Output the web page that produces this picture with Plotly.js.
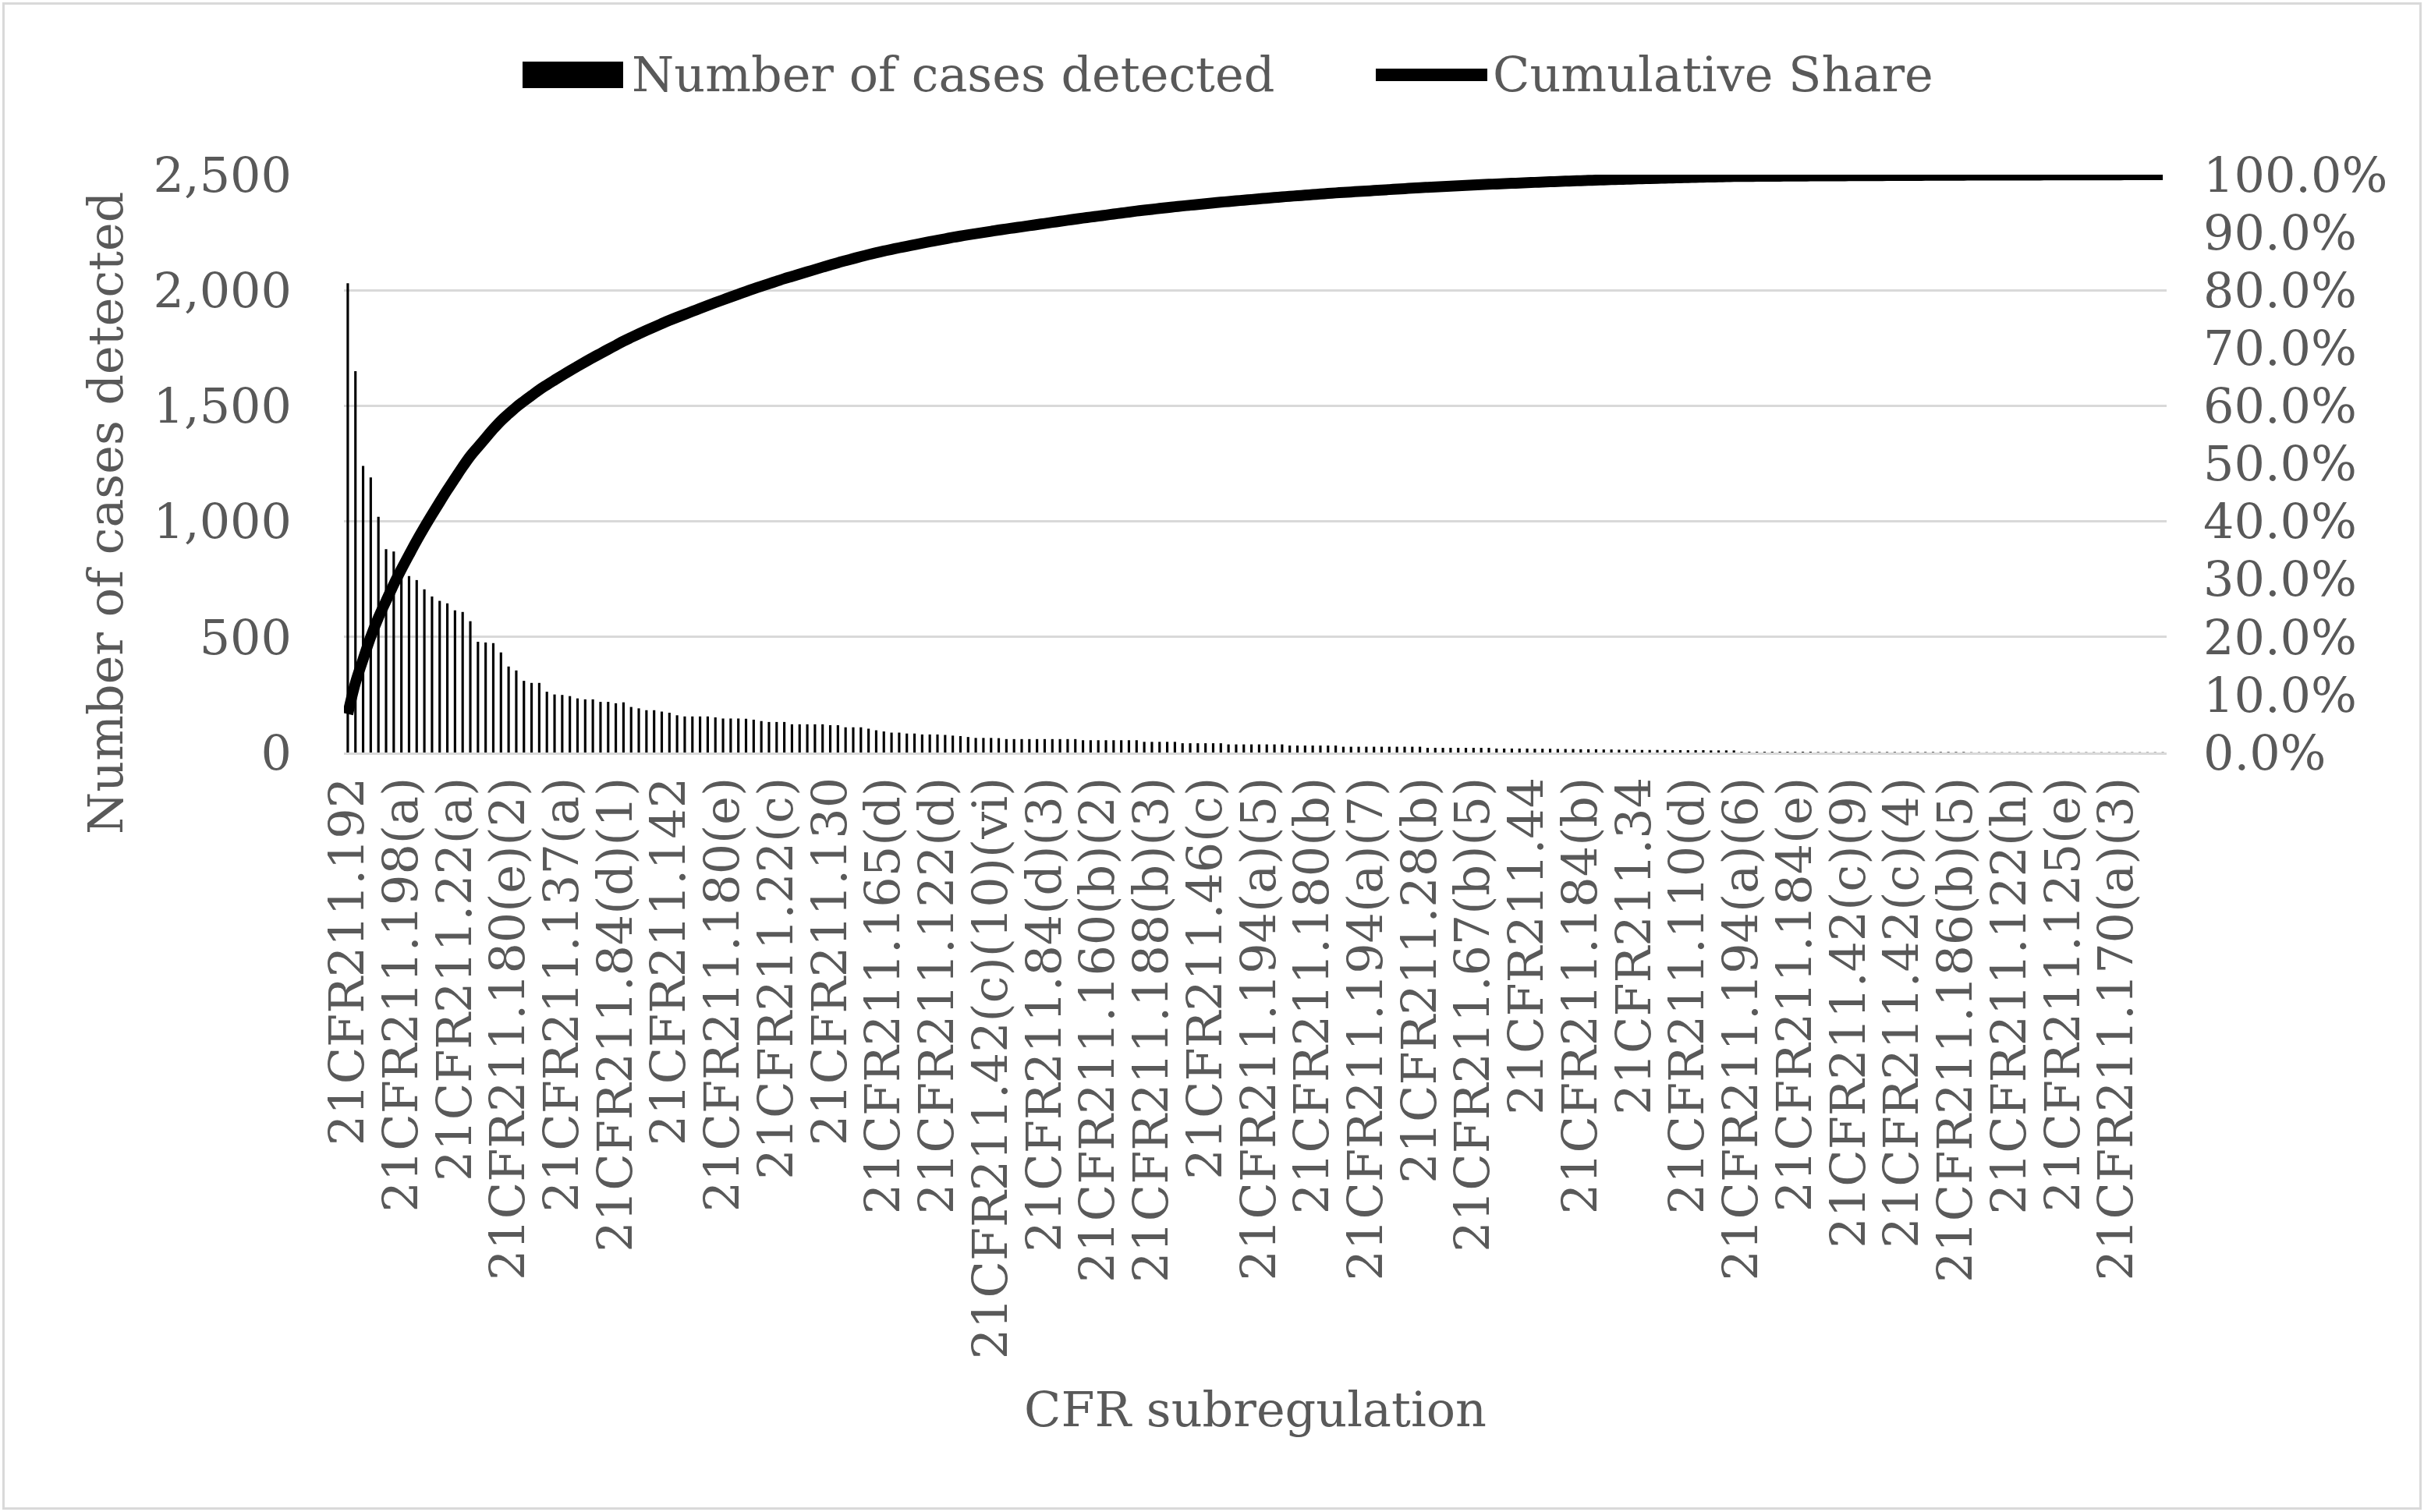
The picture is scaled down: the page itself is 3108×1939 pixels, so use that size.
<!DOCTYPE html>
<html>
<head>
<meta charset="utf-8">
<script src="https://cdn.plot.ly/plotly-3.0.1.min.js"></script>
<style>
  html, body { margin: 0; padding: 0; background: #ffffff; }
  #chart { width: 3108px; height: 1939px; }
  #frame { position: absolute; left: 3px; top: 3px; width: 3096px; height: 1927px;
           border: 3px solid #d9d9d9; pointer-events: none; }
</style>
</head>
<body>
<div id="chart"></div>
<div id="frame"></div>
<script>
// ---- data (Pareto of CFR subregulations) ----
const seriesBarName = "Number of cases detected";
const seriesLineName = "Cumulative Share";
const xTitle = "CFR subregulation";
const yTitle = "Number of cases detected";

const counts = [
  2030, 1650, 1240, 1190, 1020, 880, 870, 800, 763, 746,
  706, 675, 656, 645, 615, 608, 568, 479, 476, 473,
  433, 372, 355, 310, 301, 301, 263, 251, 249, 244,
  234, 230, 230, 219, 219, 213, 217, 197, 191, 183,
  183, 177, 172, 161, 156, 156, 156, 156, 152, 147,
  147, 147, 146, 142, 136, 132, 132, 132, 122, 122,
  122, 122, 122, 118, 118, 109, 109, 109, 103, 96,
  91, 86, 86, 82, 82, 78, 78, 78, 76, 73,
  71, 67, 63, 63, 63, 62, 58, 58, 58, 58,
  58, 58, 58, 58, 58, 58, 53, 53, 53, 53,
  53, 53, 53, 53, 46, 46, 46, 46, 46, 40,
  40, 40, 40, 40, 40, 35, 35, 35, 35, 35,
  35, 35, 35, 30, 30, 30, 30, 30, 30, 30,
  25, 25, 25, 25, 25, 25, 25, 25, 25, 25,
  25, 20, 20, 20, 20, 20, 20, 20, 20, 20,
  17, 17, 17, 17, 17, 16, 16, 16, 15, 15,
  15, 14, 14, 14, 13, 13, 12, 12, 12, 11,
  11, 11, 11, 10, 10, 10, 10, 10, 9, 9,
  9, 9, 3, 3, 3, 3, 3, 3, 3, 3,
  3, 3, 2, 2, 2, 2, 2, 2, 2, 2,
  2, 2, 2, 2, 2, 2, 2, 2, 2, 2,
  2, 2, 1, 1, 1, 1, 1, 1, 1, 1,
  1, 1, 1, 1, 1, 1, 1, 1, 1, 1,
  1, 1, 1, 1, 1, 1, 1, 1
];

// category labels that are printed on the axis (every 7th category)
const tickLabels = [
  "21CFR211.192", "21CFR211.198(a)", "21CFR211.22(a)", "21CFR211.180(e)(2)",
  "21CFR211.137(a)", "21CFR211.84(d)(1)", "21CFR211.142", "21CFR211.180(e)",
  "21CFR211.22(c)", "21CFR211.130", "21CFR211.165(d)", "21CFR211.122(d)",
  "21CFR211.42(c)(10)(vi)", "21CFR211.84(d)(3)", "21CFR211.160(b)(2)", "21CFR211.188(b)(3)",
  "21CFR211.46(c)", "21CFR211.194(a)(5)", "21CFR211.180(b)", "21CFR211.194(a)(7)",
  "21CFR211.28(b)", "21CFR211.67(b)(5)", "21CFR211.44", "21CFR211.184(b)",
  "21CFR211.34", "21CFR211.110(d)", "21CFR211.194(a)(6)", "21CFR211.184(e)",
  "21CFR211.42(c)(9)", "21CFR211.42(c)(4)", "21CFR211.186(b)(5)", "21CFR211.122(h)",
  "21CFR211.125(e)", "21CFR211.170(a)(3)"
];
const labelStep = 7;

const yTickVals = [0, 500, 1000, 1500, 2000, 2500];
const y2TickVals = [0, 0.1, 0.2, 0.3, 0.4, 0.5, 0.6, 0.7, 0.8, 0.9, 1.0];

// ---- derived ----
const idx = counts.map((_, i) => i);
const total = counts.reduce((a, b) => a + b, 0);
let run = 0;
const cumShare = counts.map(v => { run += v; return run / total; });
const tickVals = tickLabels.map((_, k) => k * labelStep);

// ---- layout geometry ----
const FONT = "DejaVu Serif";
const FS = 62;
const GREY = "#595959";
const GRID = "#d9d9d9";
const L = 441, R = 2778, T = 224, B = 965;
const W = R - L, H = B - T;
const px = v => (v - L) / W;
const py = v => (B - v) / H;
const tf = { family: FONT, size: FS, color: GREY };

const traces = [
  {
    type: "bar",
    name: seriesBarName,
    x: idx,
    y: counts,
    width: 0.32,
    marker: { color: "#000000", line: { width: 0 } },
    yaxis: "y",
    hoverinfo: "skip"
  },
  {
    type: "scatter",
    mode: "lines",
    name: seriesLineName,
    x: idx,
    y: cumShare,
    line: { color: "#000000", width: 14, shape: "spline", smoothing: 1 },
    yaxis: "y2",
    hoverinfo: "skip"
  }
];

const layout = {
  width: 3108,
  height: 1939,
  autosize: false,
  paper_bgcolor: "#ffffff",
  plot_bgcolor: "#ffffff",
  showlegend: false,
  font: tf,
  margin: { l: L, r: 3108 - R, t: T, b: 1939 - B, pad: 0 },
  xaxis: {
    range: [-0.5, counts.length - 0.5],
    tickmode: "array",
    tickvals: tickVals,
    ticktext: tickLabels,
    tickangle: -90,
    ticks: "",
    ticklen: 0,
    ticklabelstandoff: 4,
    showgrid: false,
    zeroline: false,
    showline: true,
    linecolor: GRID,
    linewidth: 3,
    automargin: false,
    tickfont: tf
  },
  yaxis: {
    range: [0, 2500],
    tickmode: "array",
    tickvals: yTickVals,
    tickformat: ",d",
    ticks: "",
    ticklabelstandoff: 66,
    showgrid: true,
    gridcolor: GRID,
    gridwidth: 3,
    zeroline: false,
    showline: false,
    automargin: false,
    tickfont: tf
  },
  yaxis2: {
    overlaying: "y",
    side: "right",
    range: [0, 1],
    tickmode: "array",
    tickvals: y2TickVals,
    tickformat: ".1%",
    ticks: "",
    ticklabelstandoff: 46,
    showgrid: false,
    zeroline: false,
    showline: false,
    automargin: false,
    tickfont: tf
  },
  shapes: [
    { type: "rect", xref: "paper", yref: "paper",
      x0: px(670), x1: px(799), y0: py(113), y1: py(79),
      fillcolor: "#000000", line: { width: 0 } },
    { type: "line", xref: "paper", yref: "paper",
      x0: px(1764), x1: px(1907), y0: py(96), y1: py(96),
      line: { color: "#000000", width: 16 } }
  ],
  annotations: [
    { xref: "paper", yref: "paper", x: px(808), y: py(96), xanchor: "left", yanchor: "middle",
      text: seriesBarName, showarrow: false, font: tf },
    { xref: "paper", yref: "paper", x: px(1912), y: py(96), xanchor: "left", yanchor: "middle",
      text: seriesLineName, showarrow: false, font: tf },
    { xref: "paper", yref: "paper", x: px(135), y: py(658), xanchor: "center", yanchor: "middle",
      textangle: -90, text: yTitle, showarrow: false, font: tf },
    { xref: "paper", yref: "paper", x: 0.5, y: py(1808), xanchor: "center", yanchor: "middle",
      text: xTitle, showarrow: false, font: tf }
  ]
};

Plotly.newPlot("chart", traces, layout, { staticPlot: true, displayModeBar: false });
</script>
</body>
</html>
